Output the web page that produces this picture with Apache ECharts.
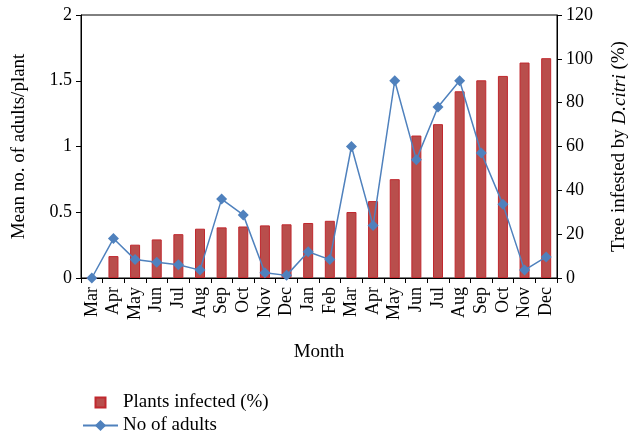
<!DOCTYPE html>
<html>
<head>
<meta charset="utf-8">
<script src="https://cdn.jsdelivr.net/npm/echarts@6/dist/echarts.min.js"></script>
<style>
html,body{margin:0;padding:0;background:#fff;}
#c{width:637px;height:437px;}
</style>
</head>
<body>
<div id="c"></div>
<script>
const months = ['Mar','Apr','May','Jun','Jul','Aug','Sep','Oct','Nov','Dec','Jan','Feb','Mar','Apr','May','Jun','Jul','Aug','Sep','Oct','Nov','Dec'];
const plantsInfected = [0,10,15.2,17.6,20,22.5,23.1,23.5,24,24.5,25.1,26.1,30.1,35.1,45.1,65,70.2,85.2,90.2,92.2,98.3,100.3];
const noOfAdults = [0,0.30,0.14,0.12,0.10,0.06,0.60,0.48,0.04,0.02,0.20,0.14,1.0,0.40,1.50,0.90,1.30,1.50,0.95,0.56,0.06,0.16];
const leftTicks = [0,0.5,1,1.5,2];
const rightTicks = [0,20,40,60,80,100,120];

const FONT = 'Liberation Serif';
const legendText = {fontFamily: FONT, fontSize: 19, color: '#000'};
const chart = echarts.init(document.getElementById('c'));
chart.setOption({
  animation: false,
  textStyle: {fontFamily: FONT, color: '#000'},
  grid: {left: 81, right: 74, top: 15, bottom: 159, show: true, borderColor: '#000', borderWidth: 1, backgroundColor: 'transparent'},
  legend: [
    {
      left: 82, top: 393, itemWidth: 35, itemHeight: 10, padding: 0,
      textStyle: legendText,
      data: [{name: 'Plants infected (%)', icon: 'path://M0,0L0,0M12.5,0L22.5,0L22.5,10L12.5,10ZM35,10L35,10'}]
    },
    {
      left: 82, top: 416, itemWidth: 35, itemHeight: 14, padding: 0,
      textStyle: legendText,
      data: [{name: 'No of adults'}]
    }
  ],
  xAxis: {
    type: 'category', data: months, boundaryGap: true,
    name: 'Month', nameLocation: 'middle', nameGap: 65,
    nameTextStyle: {fontFamily: FONT, fontSize: 19, color: '#000'},
    axisLine: {lineStyle: {color: '#000', width: 1}},
    axisTick: {show: true, length: 5, lineStyle: {color: '#000'}, alignWithLabel: false},
    axisLabel: {rotate: 90, interval: 0, fontFamily: FONT, fontSize: 18, color: '#000', margin: 9}
  },
  yAxis: [
    {
      type: 'value', position: 'left', min: leftTicks[0], max: leftTicks[leftTicks.length-1], interval: 0.5,
      name: 'Mean no. of adults/plant', nameLocation: 'middle', nameGap: 52,
      nameTextStyle: {fontFamily: FONT, fontSize: 19, color: '#000'},
      axisLine: {show: true, lineStyle: {color: '#000'}},
      axisTick: {show: true, length: 5, lineStyle: {color: '#000'}},
      splitLine: {show: false},
      axisLabel: {fontFamily: FONT, fontSize: 18, color: '#000', margin: 9}
    },
    {
      type: 'value', position: 'right', min: rightTicks[0], max: rightTicks[rightTicks.length-1], interval: 20,
      name: 'Tree infested by {i|D.citri} (%)', nameLocation: 'middle', nameGap: 53,
      nameTextStyle: {fontFamily: FONT, fontSize: 19, color: '#000', rich: {i: {fontFamily: FONT, fontSize: 19, fontStyle: 'italic', color: '#000'}}},
      axisLine: {show: true, lineStyle: {color: '#000'}},
      axisTick: {show: true, length: 5, lineStyle: {color: '#000'}},
      splitLine: {show: false},
      axisLabel: {fontFamily: FONT, fontSize: 18, color: '#000', margin: 9}
    }
  ],
  series: [
    {
      name: 'Plants infected (%)', type: 'bar', yAxisIndex: 1, data: plantsInfected,
      barWidth: 10,
      itemStyle: {color: '#B94E4C', borderColor: '#C0282E', borderWidth: 1}
    },
    {
      name: 'No of adults', type: 'line', yAxisIndex: 0, data: noOfAdults,
      symbol: 'diamond', symbolSize: 11, showAllSymbol: true,
      lineStyle: {color: '#4F81BD', width: 1.5},
      itemStyle: {color: '#4F81BD'}
    }
  ]
});
</script>
</body>
</html>
